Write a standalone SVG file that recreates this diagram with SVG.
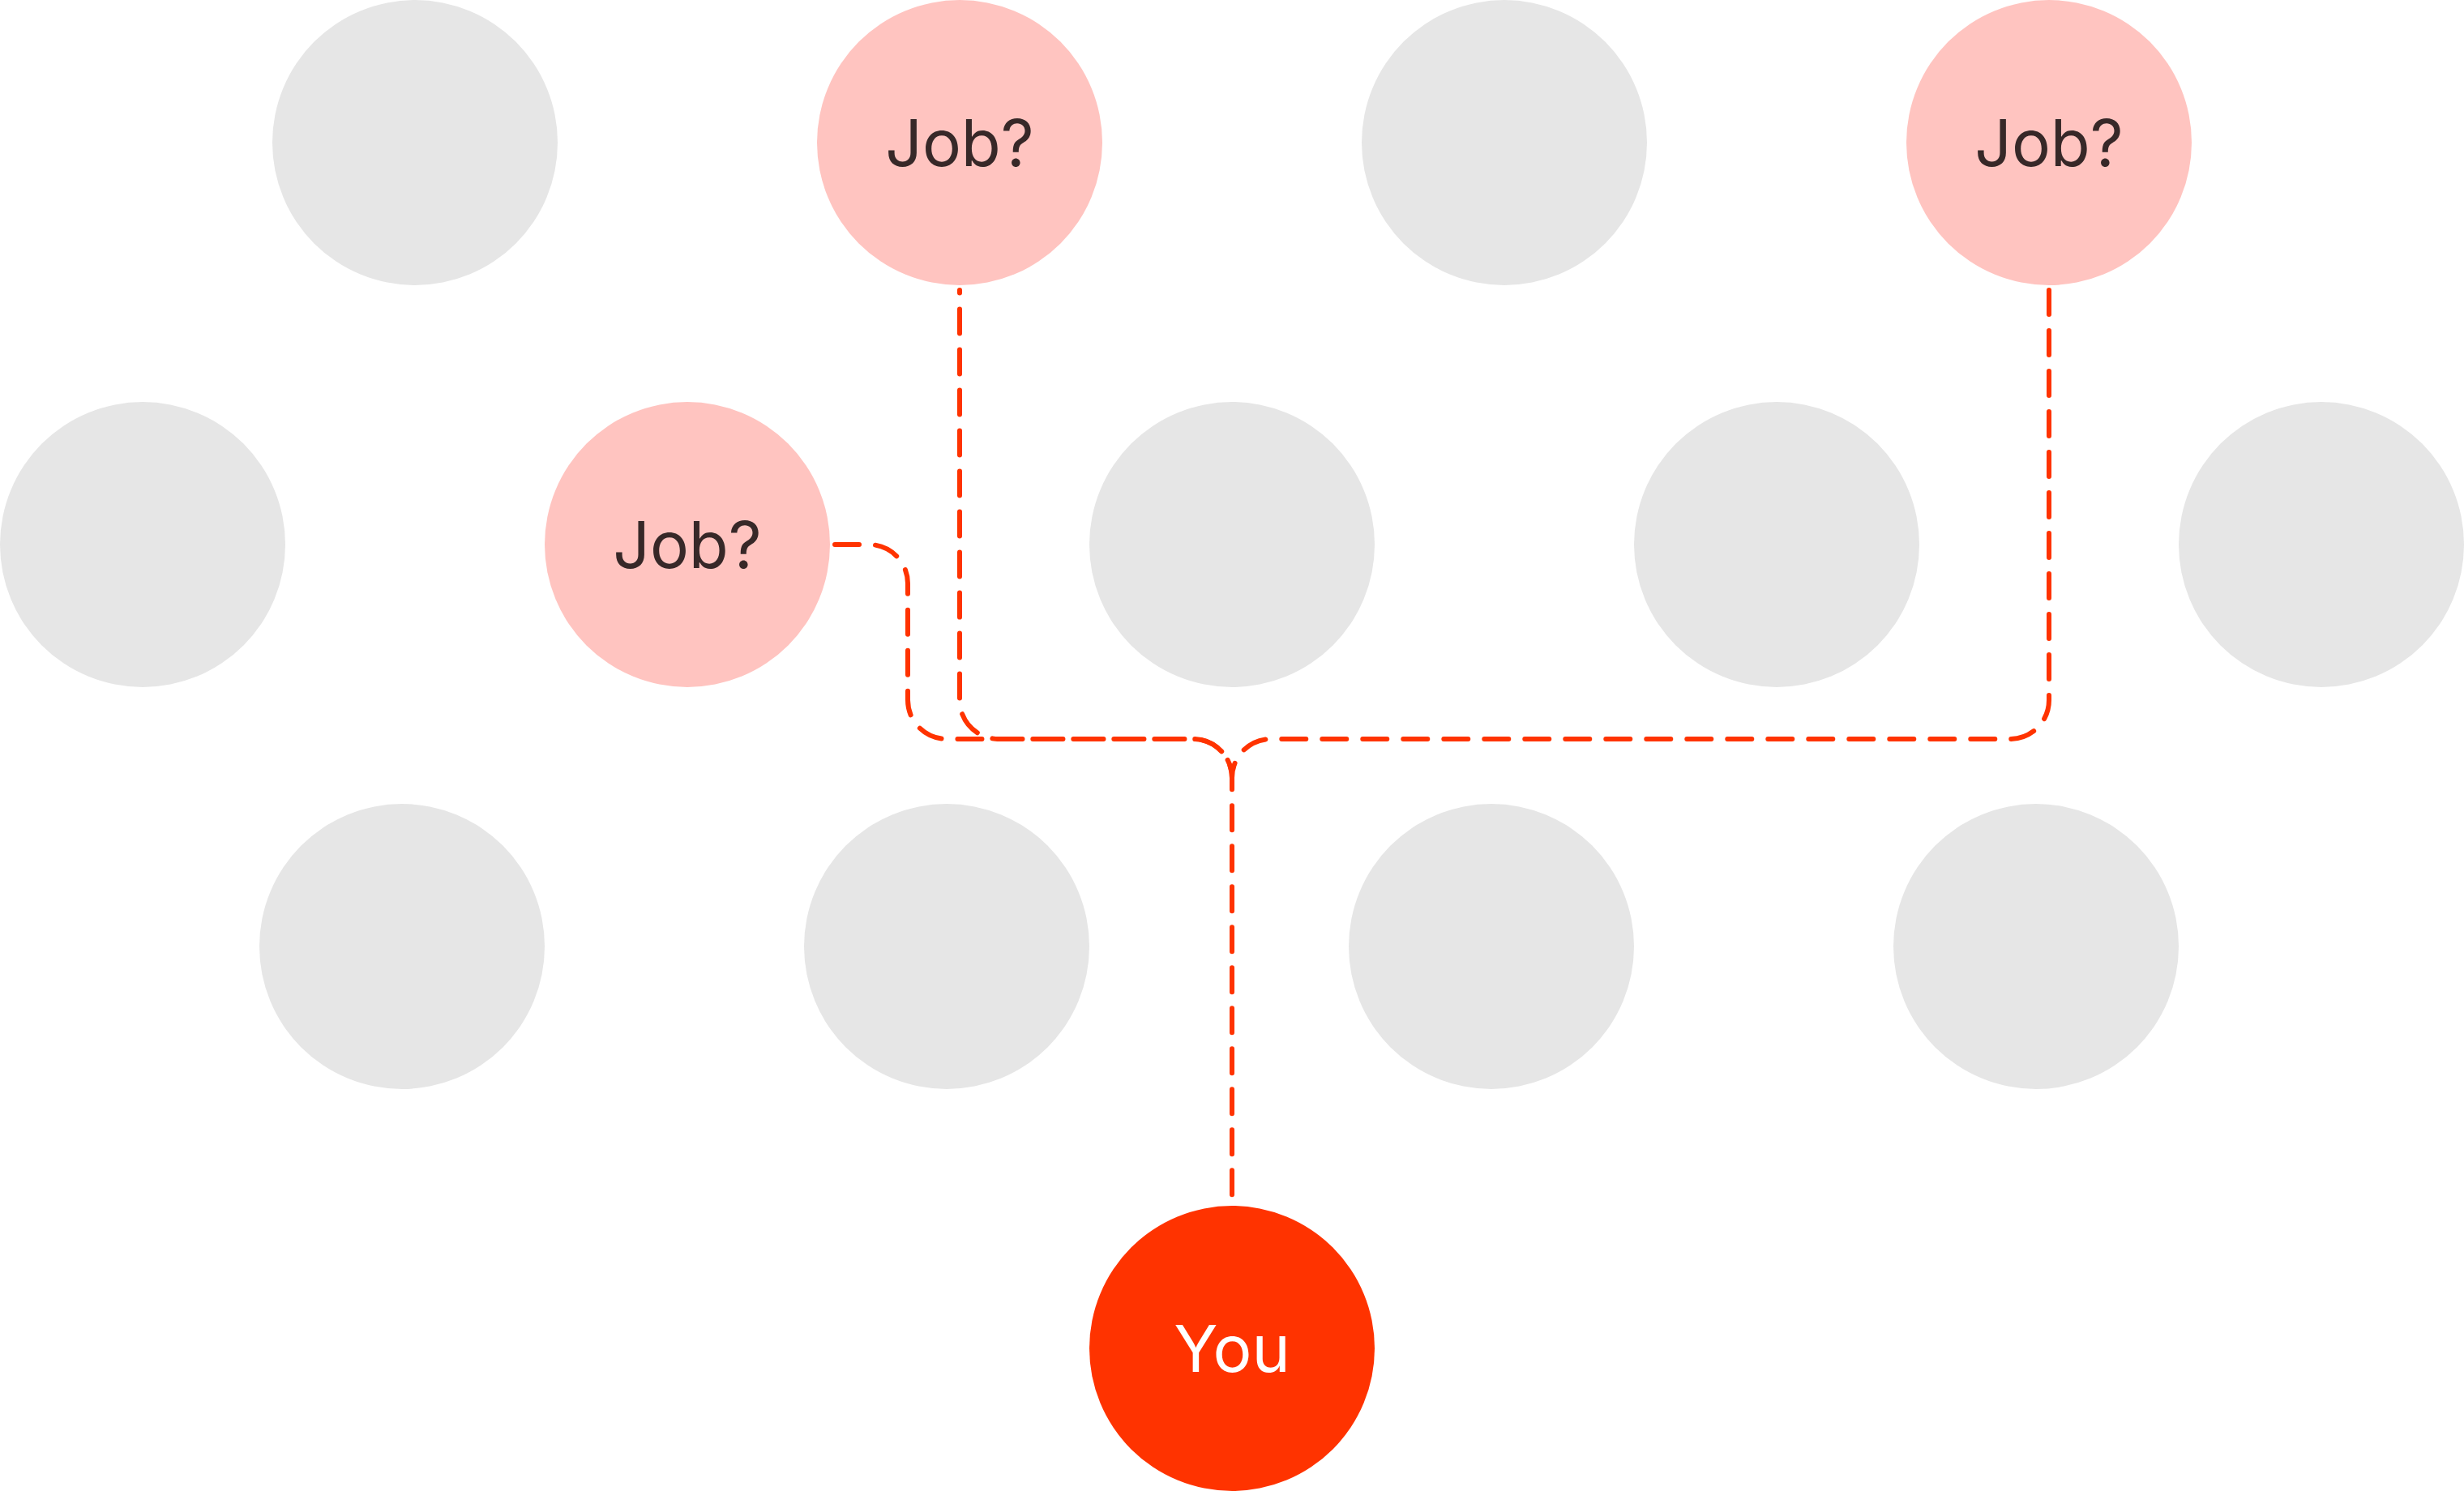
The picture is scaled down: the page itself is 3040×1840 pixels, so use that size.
<svg xmlns="http://www.w3.org/2000/svg" width="3040" height="1840" viewBox="0 0 3040 1840">
<style>
.bg{fill:#E6E6E6}
.job{fill:#FFC4C0}
.you{fill:#FF3300}
.lbl{font-family:Inter,"Liberation Sans",Arial,sans-serif;font-size:80px;text-anchor:middle}
.dark{fill:#372828}
.white{fill:#FFFFFF}
.conn{fill:none;stroke:#FF3300;stroke-width:6;stroke-linecap:round;stroke-linejoin:round;stroke-dasharray:30 20}
</style>
<rect width="3040" height="1840" fill="#FFFFFF"/>
<g id="n-r1-1"><circle class="bg" cx="512" cy="176" r="176"/></g>
<g id="job-1"><circle class="job" cx="1184" cy="176" r="176"/><text class="lbl dark" x="1184" y="205">Job?</text></g>
<g id="n-r1-3"><circle class="bg" cx="1856" cy="176" r="176"/></g>
<g id="job-2"><circle class="job" cx="2528" cy="176" r="176"/><text class="lbl dark" x="2528" y="205">Job?</text></g>
<g id="n-r2-1"><circle class="bg" cx="176" cy="672" r="176"/></g>
<g id="job-3"><circle class="job" cx="848" cy="672" r="176"/><text class="lbl dark" x="848" y="701">Job?</text></g>
<g id="n-r2-3"><circle class="bg" cx="1520" cy="672" r="176"/></g>
<g id="n-r2-4"><circle class="bg" cx="2192" cy="672" r="176"/></g>
<g id="n-r2-5"><circle class="bg" cx="2864" cy="672" r="176"/></g>
<g id="n-r3-1"><circle class="bg" cx="496" cy="1168" r="176"/></g>
<g id="n-r3-2"><circle class="bg" cx="1168" cy="1168" r="176"/></g>
<g id="n-r3-3"><circle class="bg" cx="1840" cy="1168" r="176"/></g>
<g id="n-r3-4"><circle class="bg" cx="2512" cy="1168" r="176"/></g>
<g id="you"><circle class="you" cx="1520" cy="1664" r="176"/><text class="lbl white" x="1520" y="1693">You</text></g>
<g id="connectors">
<path class="conn" d="M 1030 672 H 1072 A 48 48 0 0 1 1120 720 V 864 A 48 48 0 0 0 1168 912 H 1472 A 48 48 0 0 1 1520 960 V 1482"/>
<path class="conn" stroke-dashoffset="26.4" d="M 1184 358 V 864 A 48 48 0 0 0 1232 912 H 1472 A 48 48 0 0 1 1520 960"/>
<path class="conn" d="M 2528 358 V 864 A 48 48 0 0 1 2480 912 H 1568 A 48 48 0 0 0 1520 960"/>
</g>
</svg>
